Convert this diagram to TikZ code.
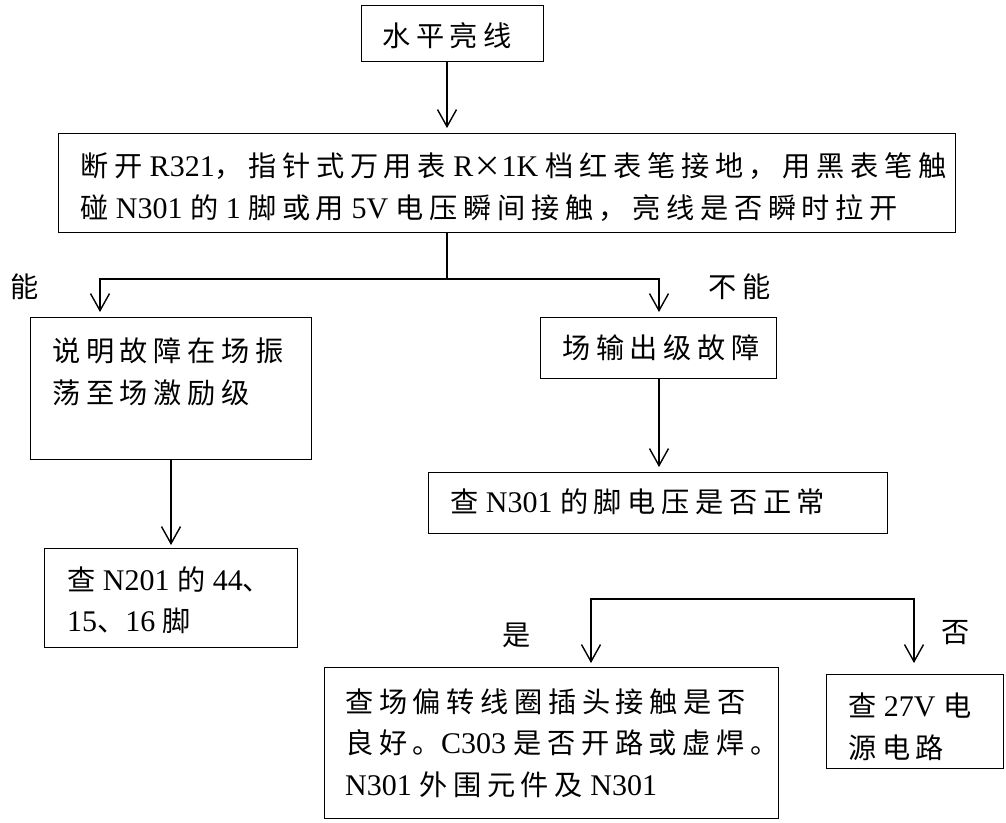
\documentclass[tikz,border=0pt]{standalone}
\usepackage{fontspec}
\setmainfont{Liberation Serif}
\newfontfamily\cjk[Scale=0.94,LetterSpace=20]{Noto Sans CJK SC}
\newcommand\zh[1]{{\cjk #1}}
\usetikzlibrary{arrows.meta}
\begin{document}
\begin{tikzpicture}[x=1pt,y=-1pt,
  box/.style={draw, line width=1.4pt, inner sep=0pt, anchor=north west},
  txt/.style={inner sep=0pt, anchor=west, align=left, font=\fontsize{30pt}{41.5pt}\selectfont},
  lbl/.style={inner sep=0pt, font=\fontsize{30pt}{41.5pt}\selectfont},
  conn/.style={line width=1.4pt, line cap=rect},
  arr/.style={line width=1.4pt, line cap=rect, -{Straight Barb[length=17pt,width=19pt]}}]
\useasboundingbox (0,0) rectangle (1006,822);
% boxes
\node[box, minimum width=182pt, minimum height=56pt] (top) at (361,5) {};
\node[box, minimum width=897pt, minimum height=99pt] (big) at (58,133) {};
\node[box, minimum width=281pt, minimum height=142pt] (L1) at (30,317) {};
\node[box, minimum width=236pt, minimum height=61pt] (R1) at (540,317) {};
\node[box, minimum width=253pt, minimum height=99pt] (L2) at (44,548) {};
\node[box, minimum width=459pt, minimum height=61pt] (R2) at (428,472) {};
\node[box, minimum width=454pt, minimum height=151pt] (B1) at (324,667) {};
\node[box, minimum width=177pt, minimum height=94pt] (B2) at (826,674) {};
% texts
\node[txt] (ttop) at (382,36) {\zh{水平亮线}};
\node[txt] (tbig) at (80,187) {\zh{断开} R321\zh{，指针式万用表} R\zh{×}1K \zh{档红表笔接地，用黑表笔触}\\\zh{碰} N301 \zh{的} 1 \zh{脚或用} 5V \zh{电压瞬间接触，亮线是否瞬时拉开}};
\node[txt] (tL1) at (52,372) {\zh{说明故障在场振}\\\zh{荡至场激励级}};
\node[txt] (tR1) at (562,348) {\zh{场输出级故障}};
\node[txt] (tR2) at (450,502) {\zh{查} N301 \zh{的脚电压是否正常}};
\node[txt] (tL2) at (67,600) {\zh{查} N201 \zh{的} 44\zh{、}\\15\zh{、}16 \zh{脚}};
\node[txt] (tB1) at (345,743) {\zh{查场偏转线圈插头接触是否}\\\zh{良好。}C303 \zh{是否开路或虚焊。}\\N301 \zh{外围元件及} N301};
\node[txt] (tB2) at (848,727) {\zh{查} 27V \zh{电}\\\zh{源电路}};
% labels
\node[lbl] (lneng) at (25,287) {\zh{能}};
\node[lbl] (lbuneng) at (740,287) {\zh{不能}};
\node[lbl] (lshi) at (517,635) {\zh{是}};
\node[lbl] (lfou) at (956,633) {\zh{否}};
% connectors
\coordinate (cA) at (447,0);
\coordinate (cL) at (171,0);
\coordinate (j1) at (447,279);
\coordinate (jL) at (100,279);
\coordinate (jR) at (659,279);
\coordinate (kL) at (591,599);
\coordinate (kR) at (914,599);
\draw[arr, shorten >=5pt] (top.south -| cA) -- (big.north -| cA);
\draw[conn] (big.south -| cA) -- (j1);
\draw[arr, shorten >=5pt] (jR) -- (jL) -- (L1.north -| jL);
\draw[arr, shorten >=5pt] (jR) -- (R1.north -| jR);
\draw[arr, shorten >=5pt] (R1.south -| jR) -- (R2.north -| jR);
\draw[arr, shorten >=3pt] (L1.south -| cL) -- (L2.north -| cL);
\draw[arr, shorten >=4pt] (kR) -- (kL) -- (B1.north -| kL);
\draw[arr, shorten >=11pt] (kR) -- (B2.north -| kR);
\end{tikzpicture}
\end{document}
